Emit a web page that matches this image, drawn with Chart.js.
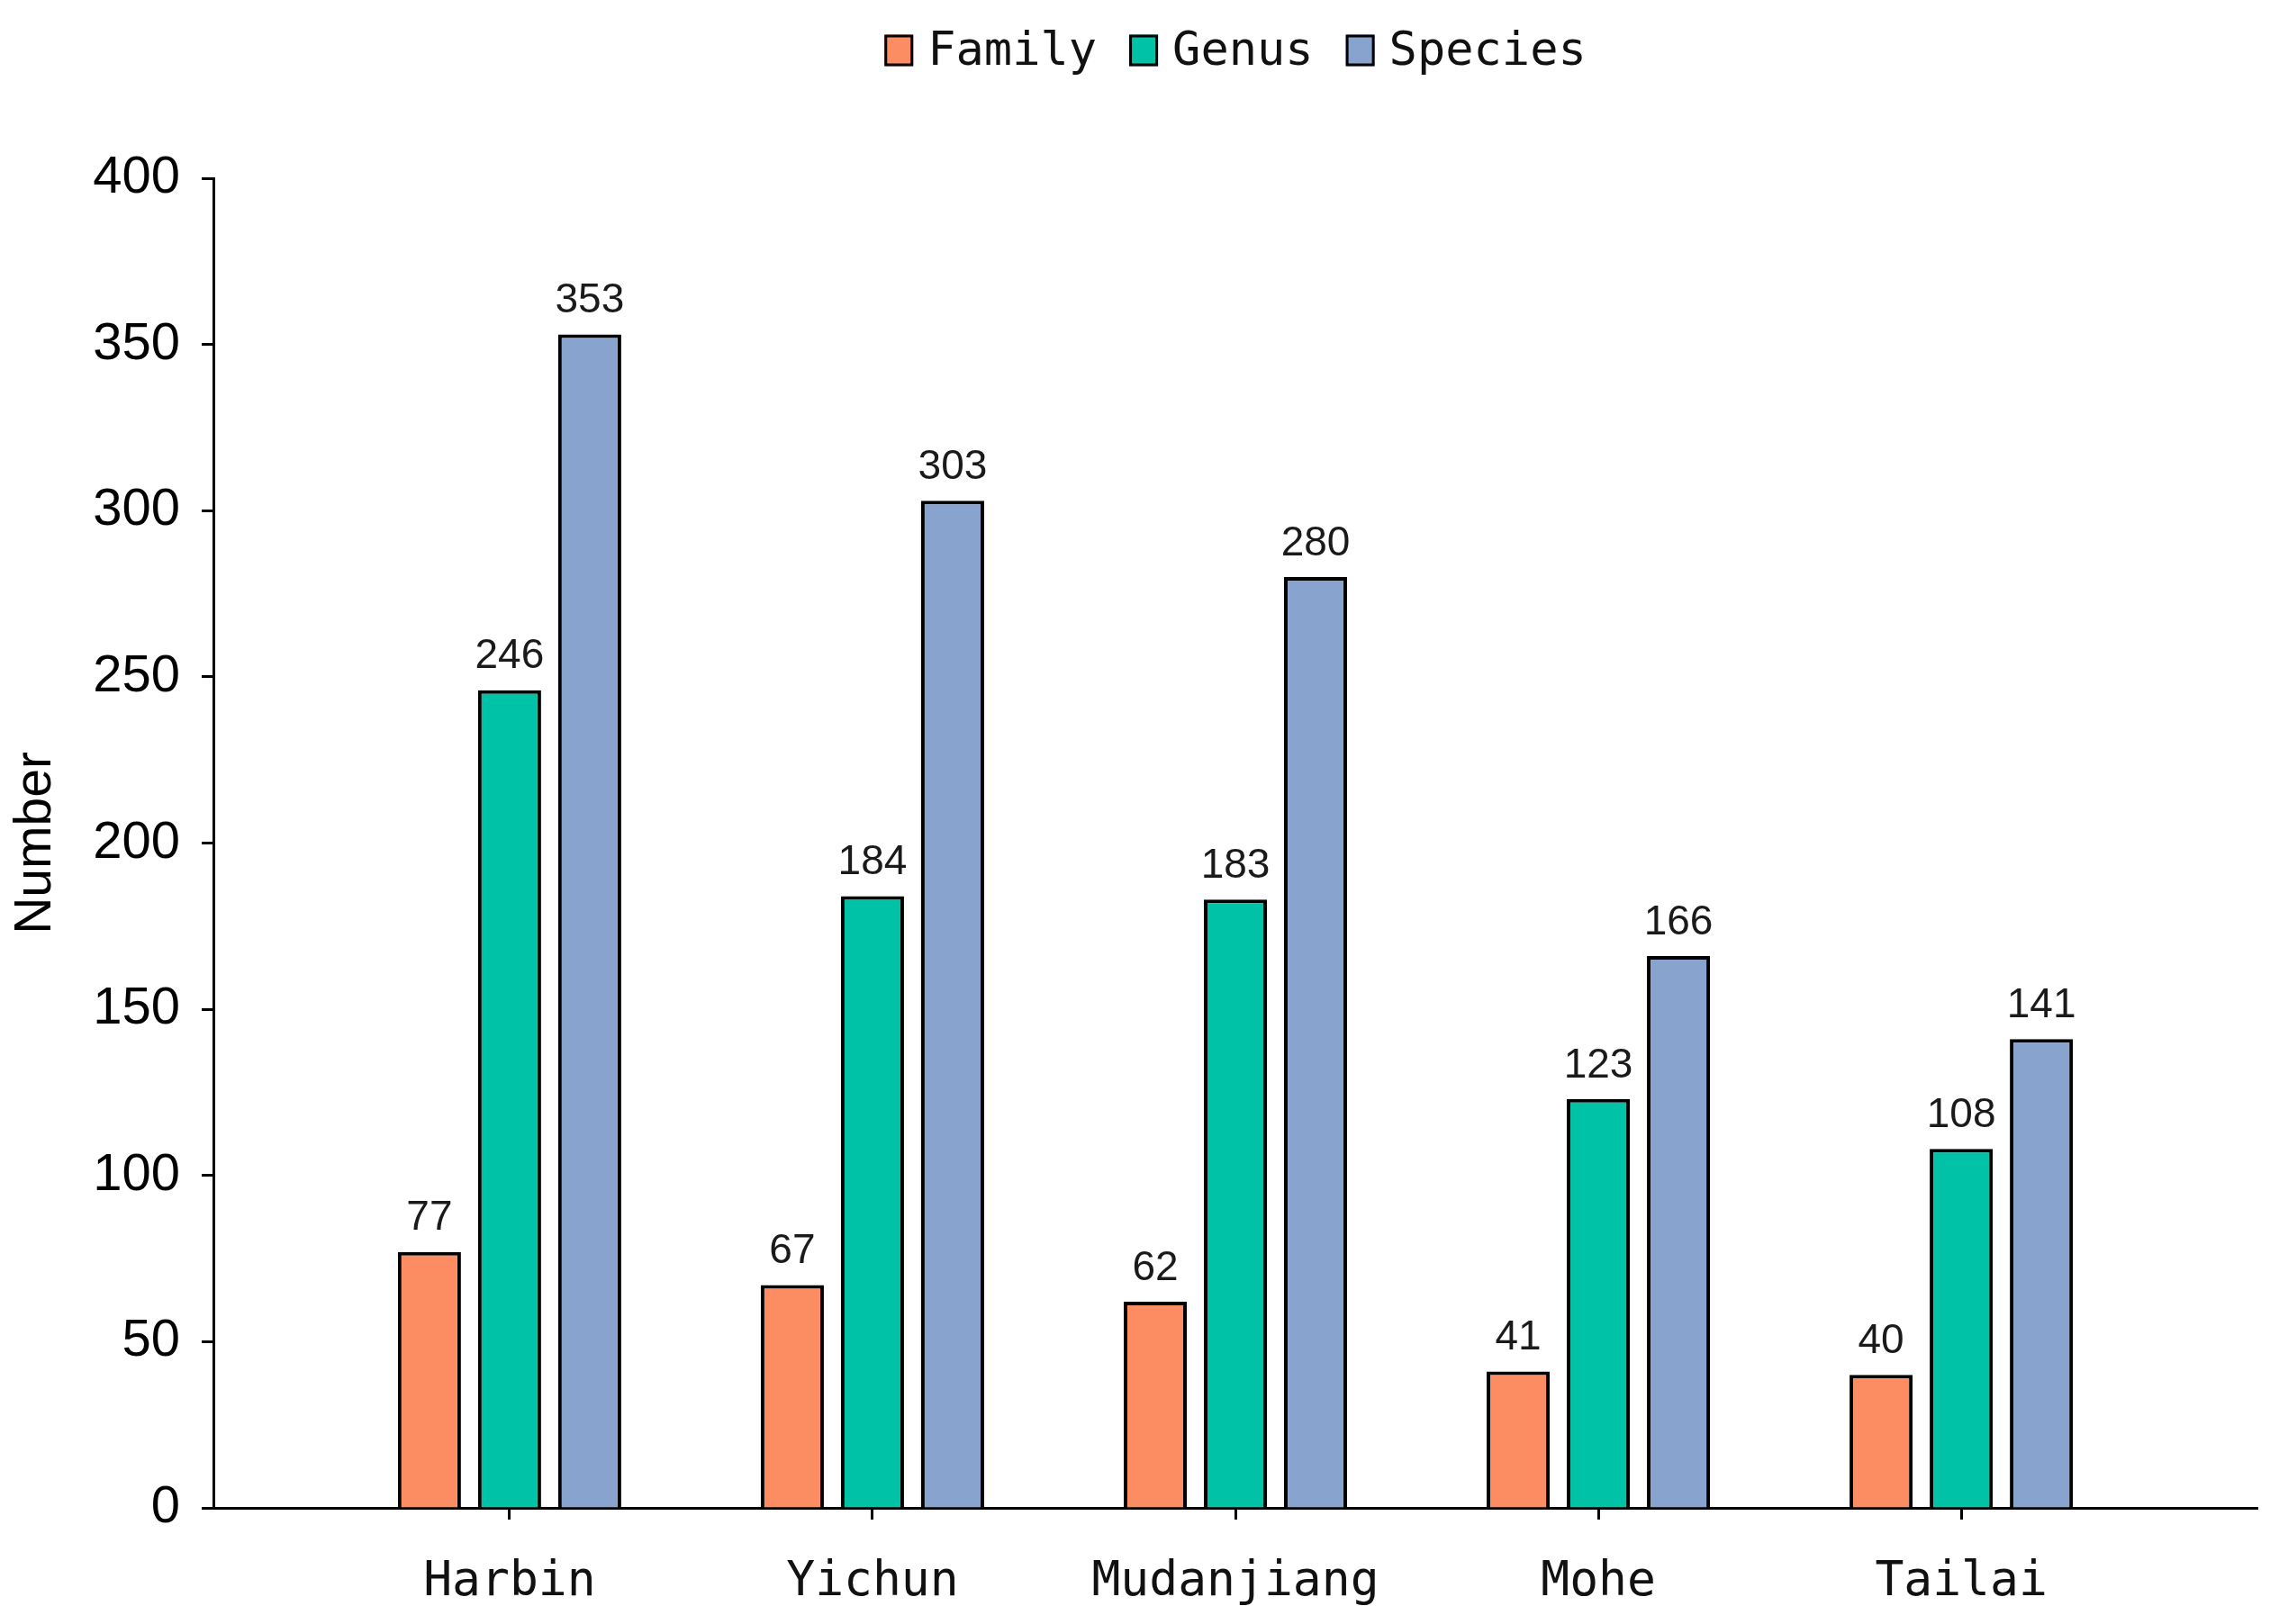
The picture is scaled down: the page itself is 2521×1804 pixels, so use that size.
<!DOCTYPE html>
<html>
<head>
<meta charset="utf-8">
<title>Family / Genus / Species</title>
<script src="https://cdn.jsdelivr.net/npm/chart.js@4/dist/chart.umd.min.js"></script>
<style>
  html, body { margin: 0; padding: 0; background: #ffffff; }
  #wrap { width: 2521px; height: 1804px; position: relative; }
</style>
</head>
<body>
<div id="wrap"><canvas id="chart"></canvas></div>
<script>
/* ---- data ---- */
const cities  = ['Harbin', 'Yichun', 'Mudanjiang', 'Mohe', 'Tailai'];
const family  = [77, 67, 62, 41, 40];
const genus   = [246, 184, 183, 123, 108];
const species = [353, 303, 280, 166, 141];
const yTicks  = [0, 50, 100, 150, 200, 250, 300, 350, 400];

const seriesNames  = ['Family', 'Genus', 'Species'];
const seriesColors = ['#FC8D62', '#00C2A7', '#89A3CF'];

const MONO = '"DejaVu Sans Mono", monospace';
const SANS = '"Liberation Sans", Arial, sans-serif';

// categories sit on a linear index axis so the axis can run past the outer groups
const toPoints = vals => vals.map((v, i) => ({ x: i, y: v }));

// value labels above each bar
const valueLabels = {
    id: 'valueLabels',
    afterDatasetsDraw(chart) {
        const ctx = chart.ctx;
        ctx.save();
        ctx.font = '46px ' + SANS;
        ctx.fillStyle = '#1a1a1a';
        ctx.textAlign = 'center';
        ctx.textBaseline = 'bottom';
        chart.data.datasets.forEach((ds, di) => {
            chart.getDatasetMeta(di).data.forEach((bar, i) => {
                ctx.fillText(String(ds.data[i].y), bar.x, bar.y - 14);
            });
        });
        ctx.restore();
    }
};

// legend centred over the plot area (not over the whole canvas)
const topLegend = {
    id: 'topLegend',
    afterDraw(chart) {
        const ctx = chart.ctx;
        const box = { w: 32, h: 35 }, gap = 16, itemGap = 36, y = 56;
        ctx.save();
        ctx.font = '52px ' + MONO;
        const items = chart.data.datasets.map(ds => ({
            text: ds.label, color: ds.backgroundColor,
            w: box.w + gap + ctx.measureText(ds.label).width
        }));
        const total = items.reduce((s, it) => s + it.w, 0) + itemGap * (items.length - 1);
        let x = (chart.chartArea.left + chart.chartArea.right) / 2 - total / 2;
        items.forEach(it => {
            ctx.fillStyle = it.color;
            ctx.fillRect(x, y - box.h / 2, box.w, box.h);
            ctx.lineWidth = 3;
            ctx.strokeStyle = '#000000';
            ctx.strokeRect(x + 1.5, y - box.h / 2 + 1.5, box.w - 3, box.h - 3);
            ctx.fillStyle = '#111111';
            ctx.textAlign = 'left';
            ctx.textBaseline = 'middle';
            ctx.fillText(it.text, x + box.w + gap, y + 2);
            x += it.w + itemGap;
        });
        ctx.restore();
    }
};

const datasets = [family, genus, species].map((vals, k) => ({
    label: seriesNames[k],
    data: toPoints(vals),
    backgroundColor: seriesColors[k],
    borderColor: '#000000',
    borderWidth: 4,
    borderSkipped: 'start',
    categoryPercentage: 0.6625,
    barPercentage: 0.787
}));

new Chart(document.getElementById('chart'), {
    type: 'bar',
    data: { datasets },
    plugins: [valueLabels, topLegend],
    options: {
        responsive: true,
        maintainAspectRatio: false,
        animation: false,
        layout: { padding: { top: 198, right: 14, bottom: 0, left: 0 } },
        plugins: {
            legend: { display: false },
            tooltip: { enabled: false }
        },
        scales: {
            x: {
                type: 'linear',
                offset: false,
                min: -0.816,
                max: cities.length - 1 + 0.816,
                afterBuildTicks: s => { s.ticks = cities.map((c, i) => ({ value: i })); },
                afterFit: s => { s.height = 129; },
                ticks: {
                    callback: v => cities[v],
                    font: { family: MONO, size: 53 },
                    color: '#111111',
                    padding: 38,
                    maxRotation: 0,
                    autoSkip: false
                },
                grid: {
                    display: true,
                    offset: false,
                    drawOnChartArea: false,
                    drawTicks: true,
                    tickLength: 13,
                    tickWidth: 3,
                    tickColor: '#000000'
                },
                border: { display: true, color: '#000000', width: 3 }
            },
            y: {
                min: 0,
                max: 400,
                afterBuildTicks: s => { s.ticks = yTicks.map(v => ({ value: v })); },
                afterFit: s => { s.width = 237; },
                ticks: {
                    font: { family: SANS, size: 58 },
                    color: '#000000',
                    padding: 24
                },
                grid: {
                    display: true,
                    drawOnChartArea: false,
                    drawTicks: true,
                    tickLength: 13,
                    tickWidth: 3,
                    tickColor: '#000000'
                },
                border: { display: true, color: '#000000', width: 3 },
                title: {
                    display: true,
                    text: 'Number',
                    font: { family: SANS, size: 57 },
                    color: '#000000',
                    padding: { top: 6, bottom: 0 }
                }
            }
        }
    }
});
</script>
</body>
</html>
